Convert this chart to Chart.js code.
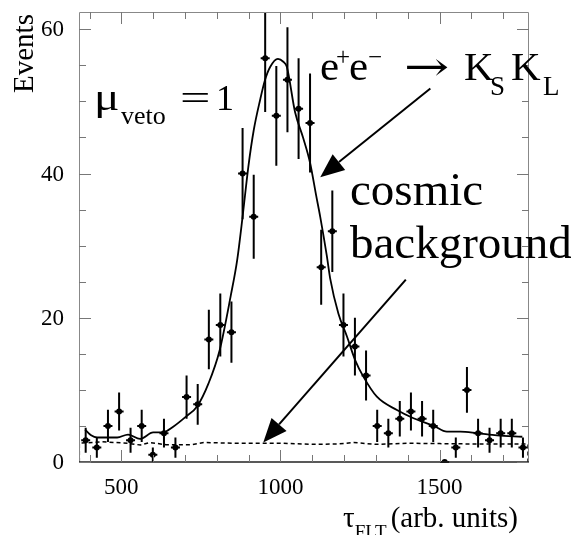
<!DOCTYPE html>
<html>
<head>
<meta charset="utf-8">
<script src="https://cdn.jsdelivr.net/npm/chart.js@4.4.1/dist/chart.umd.min.js"></script>
<style>
html, body { margin: 0; padding: 0; background: #fff; }
#wrap { width: 571px; height: 535px; }
</style>
</head>
<body>
<div id="wrap"><canvas id="tauChart" width="571" height="535"></canvas></div>
<script>
// tau_FLT histogram, 40 bins
const binCenters = [388, 423, 458, 493, 529, 564, 599, 634, 670, 705,
    740, 775, 811, 846, 881, 916, 952, 987, 1022, 1057,
    1093, 1128, 1163, 1198, 1234, 1269, 1304, 1339, 1375, 1410,
    1445, 1480, 1516, 1551, 1586, 1621, 1657, 1692, 1727, 1762]
const events = [3, 2, 5, 7, 3, 5, 1, 4, 2, 9,
    8, 17, 19, 18, 40, 34, 56, 48, 53, 49,
    47, 27, 32, 19, 16, 12, 5, 4, 6, 7,
    6, 5, 0, 2, 10, 4, 3, 4, 4, 2]

// signal + background fit
const fitX = [386, 405, 424, 455, 487, 521, 559, 600, 631, 663, 703, 738, 774, 809, 844, 864,
    881, 899, 916, 936, 951, 968, 992, 1009, 1020, 1046, 1071, 1093, 1112, 1125, 1146,
    1156, 1182, 1209, 1235, 1261, 1303, 1366, 1418, 1481, 1523, 1565, 1618, 1680, 1760]
const fitY = [4.5, 3.7, 3.4, 3.4, 3.4, 3.8, 3.2, 4.1, 4.1, 4.9, 6.3, 7.7, 10.9, 15.5, 23.1, 28,
    34, 40.9, 46, 50.2, 52.9, 54.8, 55.9, 55.5, 54.8, 48.5, 45, 41.5, 37, 34, 28.5,
    25.5, 20.6, 17.4, 14.1, 11.8, 9.05, 7.2, 6.06, 5.03, 4.2, 4.2, 4.0, 3.7, 3.5]

// cosmic background shape
const bkgX = [368, 368, 440, 520, 560, 590, 640, 720, 760, 860, 1000, 1100, 1180, 1230, 1300, 1400, 1500, 1600, 1700, 1778, 1778]
const bkgY = [0, 2.6, 2.8, 2.6, 2.35, 2.7, 2.4, 2.4, 2.7, 2.6, 2.6, 2.45, 2.5, 2.7, 2.45, 2.6, 2.55, 2.5, 2.5, 2.5, 0]

const xMajor = [500, 1000, 1500]
const xMinor = [400, 600, 700, 800, 900, 1100, 1200, 1300, 1400, 1600, 1700]
const yMajor = [0, 20, 40, 60]
const yMinor = [5, 10, 15, 25, 30, 35, 45, 50, 55]

const SERIF = '"Liberation Serif", "DejaVu Serif", serif'

function pts(xs, ys) {
    return xs.map((x, i) => ({ x, y: ys[i] }))
}

// draw text pieces one after another; 'at' pins a piece to an x position
function drawRuns(ctx, x, y, runs) {
    ctx.save()
    ctx.fillStyle = '#000'
    ctx.textBaseline = 'alphabetic'
    ctx.textAlign = 'left'
    for (const r of runs) {
        if (r.at !== undefined) x = r.at
        ctx.font = r.size + 'px ' + (r.family || SERIF)
        const w = ctx.measureText(r.text).width
        const sx = r.sx || 1
        ctx.save()
        ctx.translate(x, y + (r.dy || 0))
        ctx.scale(sx, 1)
        ctx.fillText(r.text, 0, 0)
        ctx.restore()
        x += w * sx + (r.gap || 0)
    }
    ctx.restore()
}

function arrow(ctx, x0, y0, x1, y1) {
    const ang = Math.atan2(y1 - y0, x1 - x0)
    const len = 24, half = 10
    const bx = x1 - len * Math.cos(ang), by = y1 - len * Math.sin(ang)
    ctx.save()
    ctx.strokeStyle = '#000'
    ctx.fillStyle = '#000'
    ctx.lineWidth = 2
    ctx.beginPath()
    ctx.moveTo(x0, y0)
    ctx.lineTo(bx, by)
    ctx.stroke()
    ctx.beginPath()
    ctx.moveTo(x1, y1)
    ctx.lineTo(bx + half * Math.sin(ang), by - half * Math.cos(ang))
    ctx.lineTo(bx - half * Math.sin(ang), by + half * Math.cos(ang))
    ctx.closePath()
    ctx.fill()
    ctx.restore()
}

const errorBars = {
    id: 'errorBars',
    afterDatasetsDraw(chart) {
        const { ctx, chartArea: a, scales: { x, y } } = chart
        ctx.save()
        ctx.beginPath()
        ctx.rect(a.left, a.top, a.right - a.left, a.bottom - a.top + 2)
        ctx.clip()
        ctx.strokeStyle = '#000'
        ctx.lineWidth = 2
        binCenters.forEach((c, i) => {
            const n = events[i]
            const err = Math.sqrt(n)
            const px = x.getPixelForValue(c)
            const py = y.getPixelForValue(n)
            ctx.beginPath()
            ctx.moveTo(px, y.getPixelForValue(n - err))
            ctx.lineTo(px, y.getPixelForValue(n + err))
            ctx.moveTo(px - 4.5, py)
            ctx.lineTo(px + 4.5, py)
            ctx.stroke()
        })
        ctx.restore()
    }
}

const frame = {
    id: 'frame',
    afterDraw(chart) {
        const { ctx, chartArea: a, scales: { x, y } } = chart
        ctx.save()

        // box
        ctx.lineWidth = 1
        ctx.strokeStyle = '#888'
        ctx.beginPath()
        ctx.moveTo(a.left + 0.5, a.bottom)
        ctx.lineTo(a.left + 0.5, a.top + 0.5)
        ctx.lineTo(a.right - 0.5, a.top + 0.5)
        ctx.lineTo(a.right - 0.5, a.bottom)
        ctx.stroke()
        ctx.strokeStyle = '#222'
        ctx.lineWidth = 1.5
        ctx.beginPath()
        ctx.moveTo(a.left, a.bottom)
        ctx.lineTo(a.right, a.bottom)
        ctx.stroke()

        // ticks on all four sides
        ctx.lineWidth = 1
        ctx.strokeStyle = '#777'
        const tickY = (v, len) => {
            const py = Math.round(y.getPixelForValue(v)) + 0.5
            ctx.beginPath()
            ctx.moveTo(a.left, py); ctx.lineTo(a.left + len, py)
            ctx.moveTo(a.right, py); ctx.lineTo(a.right - len, py)
            ctx.stroke()
        }
        const tickX = (v, len) => {
            const px = Math.round(x.getPixelForValue(v)) + 0.5
            ctx.beginPath()
            ctx.moveTo(px, a.bottom); ctx.lineTo(px, a.bottom - len)
            ctx.moveTo(px, a.top); ctx.lineTo(px, a.top + len)
            ctx.stroke()
        }
        yMajor.forEach(v => tickY(v, 12))
        yMinor.forEach(v => tickY(v, 7))
        xMajor.forEach(v => tickX(v, 12))
        xMinor.forEach(v => tickX(v, 7))

        // tick labels
        ctx.fillStyle = '#000'
        ctx.font = '23px ' + SERIF
        ctx.textAlign = 'right'
        ctx.textBaseline = 'middle'
        yMajor.forEach(v => ctx.fillText(String(v), 64, y.getPixelForValue(v) + 1))
        ctx.textAlign = 'center'
        ctx.textBaseline = 'alphabetic'
        xMajor.forEach(v => ctx.fillText(String(v), x.getPixelForValue(v), 494))

        // axis titles
        ctx.save()
        ctx.translate(33, 93)
        ctx.rotate(-Math.PI / 2)
        ctx.font = '29px ' + SERIF
        ctx.textAlign = 'left'
        ctx.fillText('Events', 0, 0)
        ctx.restore()

        drawRuns(ctx, 343, 527, [
            { text: 'τ', size: 29 },
            { text: 'FLT', size: 19, dy: 11, gap: 4 },
            { text: '(arb. units)', size: 29 }
        ])

        // labels on the plot
        drawRuns(ctx, 94, 110, [
            { text: 'μ', size: 38, sx: 1.25 },
            { text: 'veto', size: 26, dy: 14, at: 121 },
            { text: '=', size: 36, sx: 1.5, at: 180 },
            { text: '1', size: 36, at: 216 }
        ])
        drawRuns(ctx, 320, 80, [
            { text: 'e', size: 43 },
            { text: '+', size: 25, dy: -15, at: 336 },
            { text: 'e', size: 43, at: 349 },
            { text: '−', size: 25, dy: -15, at: 368 },
            { text: '→', size: 40, sx: 1.35, at: 404, family: '"DejaVu Serif", serif' },
            { text: 'K', size: 41, at: 464 },
            { text: 'S', size: 27, dy: 15, at: 490 },
            { text: 'K', size: 41, at: 511 },
            { text: 'L', size: 27, dy: 15, at: 543 }
        ])
        drawRuns(ctx, 350, 205, [{ text: 'cosmic', size: 47 }])
        drawRuns(ctx, 350, 258, [{ text: 'background', size: 47 }])

        arrow(ctx, x.getPixelForValue(1471), y.getPixelForValue(51.8), x.getPixelForValue(1125), y.getPixelForValue(39.5))
        arrow(ctx, x.getPixelForValue(1394), y.getPixelForValue(25.3), x.getPixelForValue(946), y.getPixelForValue(2.7))

        ctx.restore()
    }
}

new Chart(document.getElementById('tauChart').getContext('2d'), {
    type: 'scatter',
    data: {
        datasets: [
            {
                data: pts(fitX, fitY),
                showLine: true,
                borderColor: '#000',
                borderWidth: 1.8,
                pointRadius: 0,
                cubicInterpolationMode: 'monotone'
            },
            {
                data: pts(bkgX, bkgY),
                showLine: true,
                borderColor: '#000',
                borderWidth: 1.5,
                borderDash: [4, 3],
                pointRadius: 0,
                tension: 0
            },
            {
                data: pts(binCenters, events),
                showLine: false,
                pointRadius: 3,
                pointBackgroundColor: '#000',
                pointBorderColor: '#000',
                pointBorderWidth: 0
            }
        ]
    },
    options: {
        responsive: false,
        devicePixelRatio: 1,
        animation: false,
        layout: { padding: { left: 79, top: 12, right: 42, bottom: 73 } },
        plugins: {
            legend: { display: false },
            tooltip: { enabled: false }
        },
        scales: {
            x: { type: 'linear', min: 367, max: 1781, display: false },
            y: { type: 'linear', min: 0, max: 62.4, display: false }
        }
    },
    plugins: [errorBars, frame]
})
</script>
</body>
</html>
